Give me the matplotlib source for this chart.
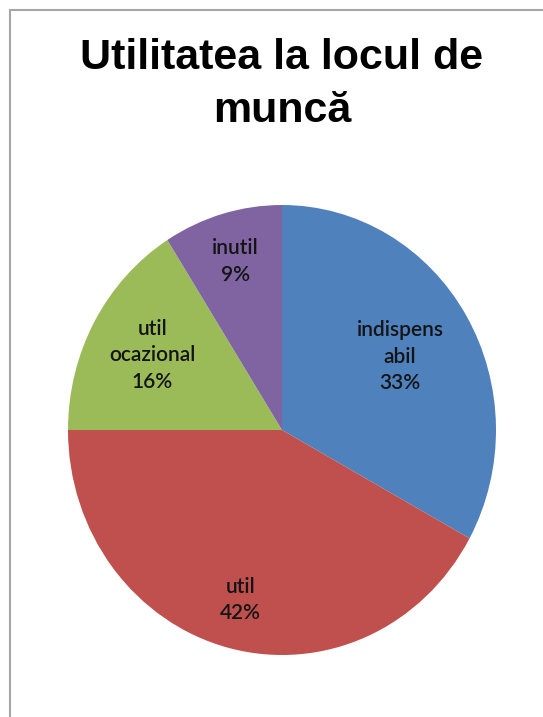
import matplotlib
matplotlib.use("Agg")
import matplotlib.pyplot as plt
from matplotlib.patches import Rectangle
import numpy as np

title_lines = ["Utilitatea la locul de", "muncă"]
categories = ["indispens\nabil", "util", "util\nocazional", "inutil"]
percents = [33, 42, 16, 9]
colors = ["#4F81BD", "#C0504D", "#9BBB59", "#8064A2"]
label_radii = [0.64, 0.78, 0.69, 0.78]

W, H = 543, 717
fig = plt.figure(figsize=(W / 100, H / 100), dpi=100)
fig.patch.set_facecolor("white")

# outer chart border
fig.add_artist(Rectangle((10 / W, -0.05), 1.1, 1 - 10 / H + 0.05,
                         transform=fig.transFigure, fill=False,
                         edgecolor="#a6a6a6", linewidth=1.5))

cx, cy, rx, ry = 282, 430, 214, 225
ax = fig.add_axes([(cx - rx) / W, (H - cy - ry) / H, 2 * rx / W, 2 * ry / H])
wedges, _ = ax.pie(percents, colors=colors, startangle=90, counterclock=False,
                   radius=1.0, wedgeprops=dict(linewidth=0))
ax.set_aspect("auto")
ax.set_xlim(-1, 1)
ax.set_ylim(-1, 1)
ax.axis("off")

for w, cat, p, r in zip(wedges, categories, percents, label_radii):
    ang = np.deg2rad((w.theta1 + w.theta2) / 2)
    ax.text(r * np.cos(ang), r * np.sin(ang), f"{cat}\n{p}%",
            ha="center", va="center", fontsize=15, family="Lato",
            fontweight="semibold", color="#141414", linespacing=1.4,
            multialignment="center")

baselines = [69, 122]
for line, b in zip(title_lines, baselines):
    fig.text(282 / W, 1 - b / H, line, ha="center", va="baseline",
             fontsize=31, fontweight="bold", family="Liberation Sans")

fig.savefig("out.png", dpi=100, facecolor="white")
